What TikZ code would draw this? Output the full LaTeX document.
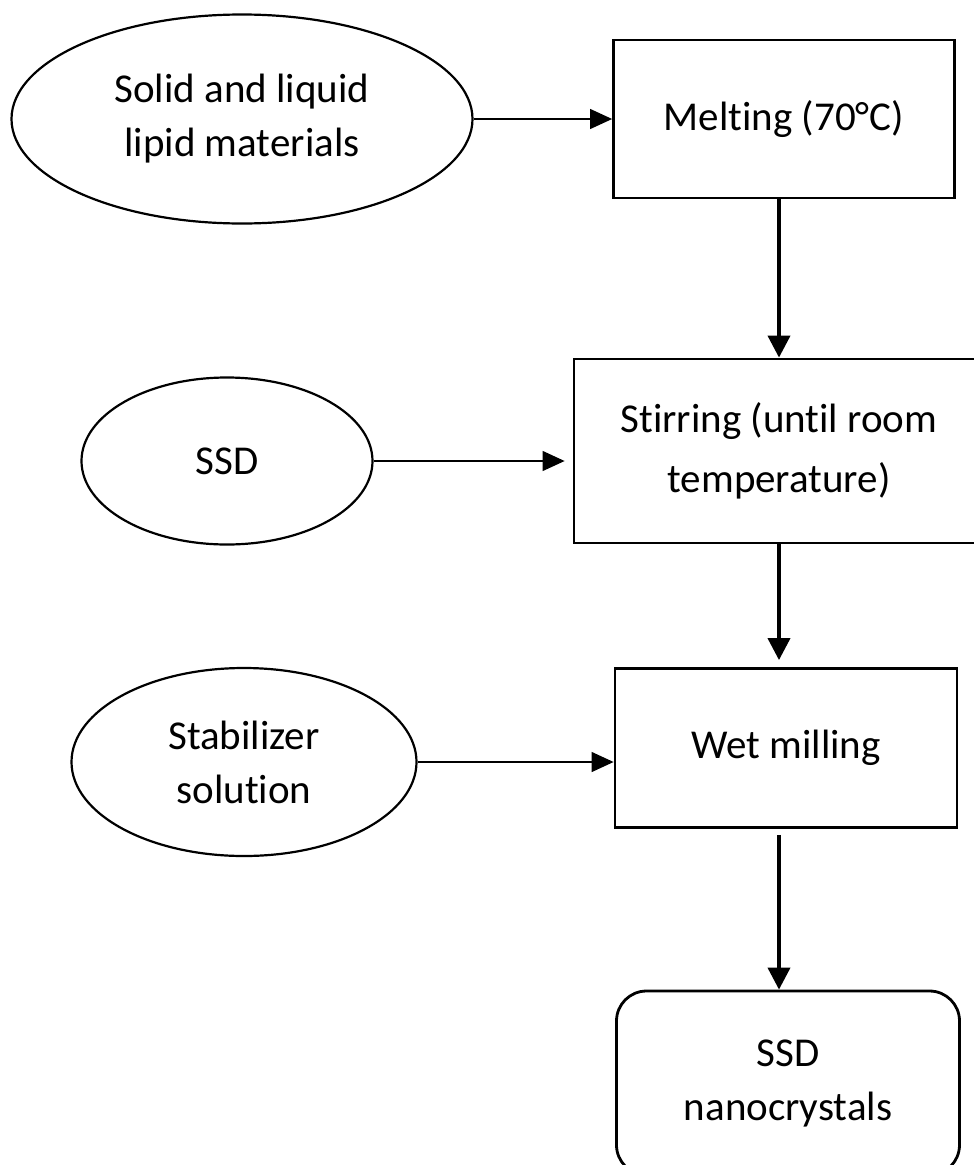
\documentclass[tikz,border=0pt]{standalone}
\usepackage{fontspec}
\setmainfont{Carlito}[Ligatures=NoCommon]
\usetikzlibrary{arrows.meta,shapes.geometric}

\begin{document}
\begin{tikzpicture}[x=1pt,y=-1pt,
    every node/.style={font=\fontsize{41}{54}\selectfont,align=center,inner sep=0pt},
    source/.style={ellipse,draw,line width=2.2pt},
    process/.style={rectangle,draw,line width=2.8pt},
    feed/.style={-{Triangle[length=22pt,width=20pt]},line width=1.2pt},
    flow/.style={-{Triangle[length=22pt,width=22pt]},line width=3.8pt}]
\useasboundingbox (0,0) rectangle (974,1165);
\clip (0,0) rectangle (974,1165);
\fill[white] (0,0) rectangle (974,1165);
% inputs on the left
\node [source,minimum width=461pt,minimum height=209pt] (lipids) at (242,119) {Solid and liquid\\lipid materials};
\node [source,minimum width=291pt,minimum height=167pt] (ssd) at (227,461) {SSD};
\node [source,minimum width=345pt,minimum height=188pt] (stab) at (244,762) {Stabilizer\\solution};
% process steps on the right
\node [process,minimum width=341pt,minimum height=158pt] (melt) at (784,119) {Melting (70°C)};
\node [process,minimum width=410pt,minimum height=184pt,font=\fontsize{41}{60}\selectfont] (stir) at (779,451) {Stirring (until room\\temperature)};
\node [process,minimum width=342pt,minimum height=159pt] (wet) at (786,748) {Wet milling};
\node [process,rounded corners=30pt,minimum width=343pt,minimum height=184pt] (nano) at (788,1083) {SSD\\nanocrystals};
% connectors
\draw[feed] (lipids.east) -- (melt.west);
\draw[feed,shorten >=8pt] (ssd.east) -- (ssd.east -| stir.west);
\draw[feed] (stab.east) -- (stab.east -| wet.west);
\draw[flow] (melt.south -| stir.north) -- (stir.north);
\draw[flow,shorten >=7pt] (stir.south) -- (stir.south |- wet.north);
\draw[flow,shorten <=6pt] (wet.south -| stir.south) -- (nano.north -| stir.south);
\end{tikzpicture}
\end{document}
